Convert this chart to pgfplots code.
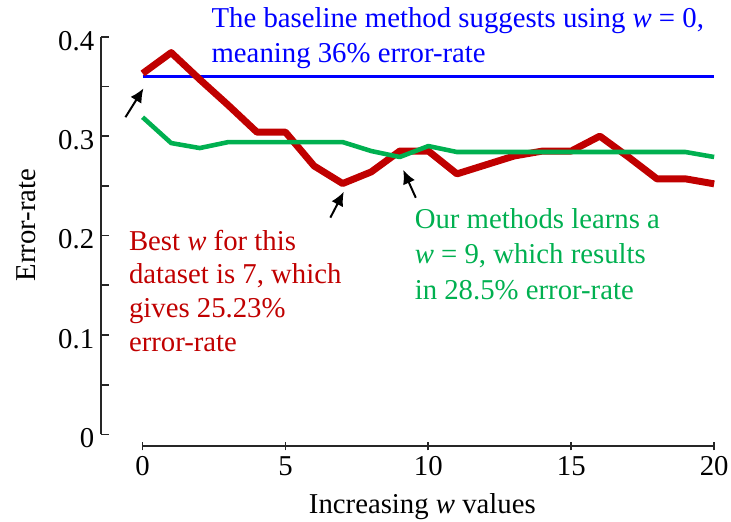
\documentclass[border=0pt]{standalone}
\usepackage{fontspec}
\setmainfont{Liberation Serif}
\usepackage{pgfplots}
\pgfplotsset{compat=1.18}
\usetikzlibrary{arrows.meta}
\definecolor{myred}{HTML}{C00000}
\definecolor{mygreen}{HTML}{00B050}
\definecolor{myblue}{HTML}{0000FF}
\definecolor{axgray}{HTML}{262626}

\begin{document}
\begin{tikzpicture}
\begin{axis}[
  name=ax,
  scale only axis, width=309pt, height=206.5pt,
  xmin=-1.45, xmax=20, ymin=-0.012, ymax=0.4,
  clip=false,
  axis line style={draw=none},
  xtick={0,5,10,15,20},
  ytick={0,0.1,0.2,0.3,0.4},
  minor ytick={0.05,0.15,0.25,0.35},
  xtick pos=bottom, ytick pos=left,
  tick align=inside,
  major tick length=4pt, minor tick length=4pt,
  x tick style={axgray, line width=0.9pt, yshift=-2pt},
  y tick style={axgray, line width=0.9pt},
  minor y tick style={axgray, line width=0.9pt},
  /pgf/number format/assume math mode=true,
  yticklabel style={/pgf/number format/fixed, /pgf/number format/precision=1, yshift=-2pt},
  xticklabel shift=1.5pt,
  tick label style={font=\fontsize{14.5}{16}\selectfont},
  label style={font=\fontsize{14.5}{16}\selectfont},
  ylabel={Error-rate},
  ylabel style={at={(axis description cs:-0.123,0.54)}, anchor=center},
  xlabel={Increasing \textit{w} values},
  xlabel style={at={(axis description cs:0.524,-0.147)}, anchor=center},
]
% axis lines (offset style)
\draw[axgray, line width=0.9pt] (axis cs:-1.45,0) -- (axis cs:-1.45,0.4);
\draw[axgray, line width=0.9pt] (axis cs:0,-0.012) -- (axis cs:20,-0.012);

% baseline
\addplot[myblue, line width=1.7pt] coordinates {(0,0.36) (20,0.36)};
% best w curve
\addplot[myred, line width=3.5pt, line join=round] coordinates {
  (0,0.363) (1,0.384) (2,0.357) (3,0.331) (4,0.304) (5,0.304)
  (6,0.270) (7,0.2523) (8,0.264) (9,0.285) (10,0.285) (11,0.262)
  (12,0.271) (13,0.280) (14,0.285) (15,0.285) (16,0.300) (17,0.279)
  (18,0.257) (19,0.257) (20,0.252)};
% learned w curve
\addplot[mygreen, line width=2.3pt, line join=round] coordinates {
  (0,0.319) (1,0.293) (2,0.288) (3,0.294) (4,0.294) (5,0.294)
  (6,0.294) (7,0.294) (8,0.285) (9,0.279) (10,0.290) (11,0.284)
  (12,0.284) (13,0.284) (14,0.284) (15,0.284) (16,0.284) (17,0.284)
  (18,0.284) (19,0.284) (20,0.279)};

% arrows
\draw[-{Latex[length=7pt,width=6.5pt]}, line width=1pt] (axis cs:-0.60,0.319) -- (axis cs:0.03,0.348);
\draw[-{Latex[length=7pt,width=6.5pt]}, line width=1pt] (axis cs:6.57,0.218) -- (axis cs:7.04,0.244);
\draw[-{Latex[length=7pt,width=6.5pt]}, line width=1pt] (axis cs:9.56,0.238) -- (axis cs:9.12,0.266);

% annotations
\node[anchor=north west, align=left, inner sep=0pt, text=myblue,
      font=\fontsize{14.5}{18}\selectfont] at (axis cs:2.40,0.430)
  {The baseline method suggests using \textit{w}~=~0,\\meaning 36\% error-rate};
\node[anchor=north west, align=left, inner sep=0pt, text=myred,
      font=\fontsize{14.5}{17}\selectfont] at (axis cs:-0.49,0.206)
  {Best \textit{w} for this\\dataset is 7, which\\gives 25.23\%\\error-rate};
\node[anchor=north west, align=left, inner sep=0pt, text=mygreen,
      font=\fontsize{14.5}{18}\selectfont] at (axis cs:9.51,0.228)
  {Our methods learns a\\\textit{w}~=~9, which results\\in 28.5\% error-rate};
\end{axis}
\pgfresetboundingbox
\path (ax.south west) ++(-51pt,-38pt) rectangle (ax.north east) ++(8.5pt,18.5pt);
\end{tikzpicture}
\end{document}
